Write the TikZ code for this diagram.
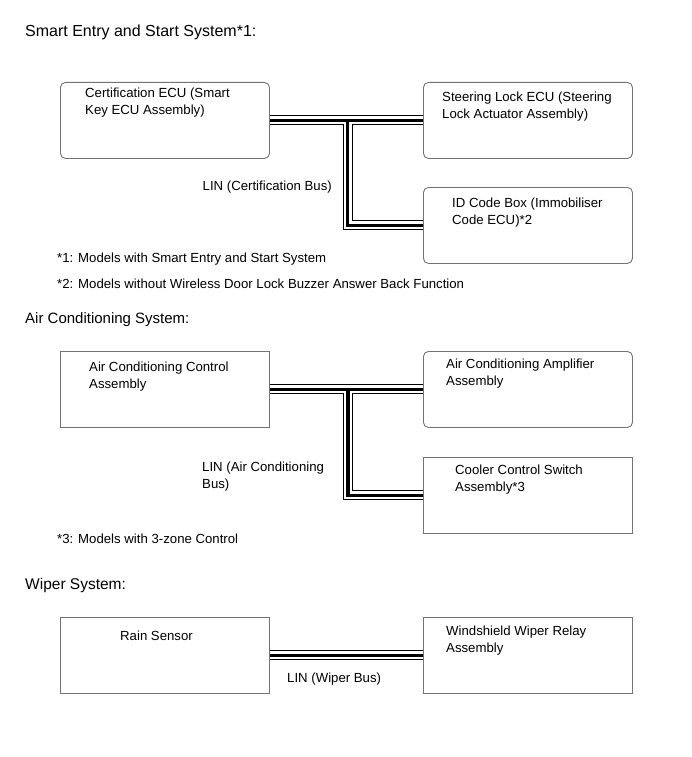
\documentclass[tikz,border=0pt]{standalone}
\usepackage{fontspec}
\setmainfont{Liberation Sans}
\begin{document}
\begin{tikzpicture}[x=1pt,y=-1pt,
  box/.style={draw=black!55, line width=0.9pt, minimum width=209pt, minimum height=76pt, inner sep=0pt, anchor=north west},
  rbox/.style={box, rounded corners=5pt},
  txt/.style={anchor=north west, align=left, inner sep=0pt, font=\fontsize{13.2}{16.5}\selectfont},
  btxt/.style={anchor=base west, inner sep=0pt, font=\fontsize{13.2}{16.5}\selectfont},
  head/.style={anchor=base west, inner sep=0pt, font=\fontsize{15.5}{18}\selectfont},
  busA/.style={line width=10pt, black},
  busB/.style={line width=8pt, white},
  busC/.style={line width=3.2pt, black}]
\useasboundingbox (0,0) rectangle (691,757);
\fill[white] (0,0) rectangle (691,757);

% ---------- Smart Entry and Start System ----------
\node[head, font=\fontsize{16}{18}\selectfont] (h1) at (25,37) {Smart Entry and Start System*1:};
\node[rbox] (C1) at (60,82) {};
\node[rbox] (S1) at (423,82) {};
\node[rbox] (ID) at (423,187) {};
\node[txt] (tC1) at (85,88) {Certification ECU (Smart\\Key ECU Assembly)};
\node[txt] (tS1) at (442,92) {Steering Lock ECU (Steering\\Lock Actuator Assembly)};
\node[txt] (tID) at (452,198) {ID Code Box (Immobiliser\\Code ECU)*2};
\coordinate (J1) at (347.5,120);
\draw[busA] (C1.east) -- (S1.west);
\draw[busA] (J1) |- (ID.west);
\draw[busB] (C1.east) -- (S1.west);
\draw[busB] (J1) |- (ID.west);
\draw[busC] (C1.east) -- (S1.west);
\draw[busC] (J1) |- (ID.west);
\node[anchor=base east, inner sep=0pt, font=\fontsize{13.2}{16.5}\selectfont] (l1) at (332,190) {LIN (Certification Bus)};
\node[btxt] (f1) at (57,262) {*1: Models with Smart Entry and Start System};
\node[btxt] (f2) at (57,288) {*2: Models without Wireless Door Lock Buzzer Answer Back Function};

% ---------- Air Conditioning System ----------
\node[head, font=\fontsize{15}{18}\selectfont] (h2) at (25,323) {Air Conditioning System:};
\node[box] (AC) at (60,351) {};
\node[rbox] (AM) at (423,351) {};
\node[box] (CC) at (423,457) {};
\node[txt] (tAC) at (89,362) {Air Conditioning Control\\Assembly};
\node[txt] (tAM) at (446,359) {Air Conditioning Amplifier\\Assembly};
\node[txt] (tCC) at (455,465) {Cooler Control Switch\\Assembly*3};
\coordinate (J2) at (348,389);
\draw[busA] (AC.east) -- (AM.west);
\draw[busA] (J2) |- (CC.west);
\draw[busB] (AC.east) -- (AM.west);
\draw[busB] (J2) |- (CC.west);
\draw[busC] (AC.east) -- (AM.west);
\draw[busC] (J2) |- (CC.west);
\node[txt] (l2) at (202,462) {LIN (Air Conditioning\\Bus)};
\node[btxt] (f3) at (57,543) {*3: Models with 3-zone Control};

% ---------- Wiper System ----------
\node[head] (h3) at (25,589) {Wiper System:};
\node[box] (RS) at (60,617) {};
\node[box] (WW) at (423,617) {};
\node[btxt] (tRS) at (120,640) {Rain Sensor};
\node[txt] (tWW) at (446,626) {Windshield Wiper Relay\\Assembly};
\draw[busA] (RS.east) -- (WW.west);
\draw[busB] (RS.east) -- (WW.west);
\draw[busC] (RS.east) -- (WW.west);
\node[btxt] (l3) at (287,682) {LIN (Wiper Bus)};
\end{tikzpicture}
\end{document}
